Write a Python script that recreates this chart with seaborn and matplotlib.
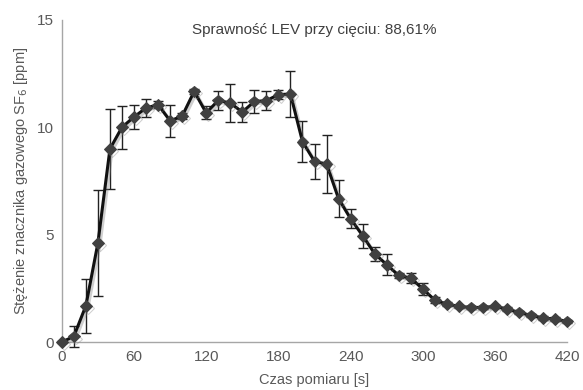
import numpy as np
import pandas as pd
import matplotlib
matplotlib.use('Agg')
import matplotlib.pyplot as plt
import matplotlib.patheffects as pe
import seaborn as sns

# dane
czas = list(range(0, 421, 10))
stezenie = [0.0, 0.26, 1.69, 4.61, 8.99, 10.0, 10.48, 10.9, 11.05, 10.3,
            10.52, 11.67, 10.67, 11.25, 11.13, 10.71, 11.2, 11.24, 11.52, 11.55,
            9.33, 8.41, 8.29, 6.67, 5.74, 4.95, 4.11, 3.6, 3.1, 2.98,
            2.47, 1.95, 1.77, 1.66, 1.61, 1.61, 1.66, 1.54, 1.38, 1.24,
            1.12, 1.07, 0.96]
blad = [0.05, 0.5, 1.25, 2.45, 1.85, 1.0, 0.57, 0.4, 0.15, 0.75,
        0.15, 0.1, 0.3, 0.45, 0.88, 0.45, 0.52, 0.43, 0.2, 1.05,
        0.95, 0.8, 1.35, 0.87, 0.45, 0.56, 0.33, 0.5, 0.1, 0.25,
        0.3, 0.15, 0.1, 0.08, 0.08, 0.08, 0.08, 0.08, 0.08, 0.08,
        0.08, 0.08, 0.08]
x_ticks = [0, 60, 120, 180, 240, 300, 360, 420]
y_ticks = [0, 5, 10, 15]

df = pd.DataFrame({'czas': czas, 'stezenie': stezenie, 'blad': blad})

sns.set_style('white')
plt.rcParams['font.family'] = ['Liberation Sans', 'DejaVu Sans']
szary = '#595959'

fig = plt.figure(figsize=(5.83, 3.9), dpi=100)
ax = fig.add_axes([0.106, 0.123, 0.867, 0.826])

# słupki błędów
ax.errorbar(df['czas'], df['stezenie'], yerr=df['blad'], fmt='none',
            ecolor='#222222', elinewidth=1.0, capsize=3.5, capthick=1.0,
            zorder=2, clip_on=False)

# linia z markerami
sns.lineplot(data=df, x='czas', y='stezenie', ax=ax, color='#111111',
             linewidth=2.2, marker='D', markersize=6,
             markerfacecolor='#404040', markeredgecolor='#404040',
             zorder=3, clip_on=False,
             path_effects=[pe.SimpleLineShadow(offset=(1.5, -1.5), shadow_color='#777777', alpha=0.35),
                           pe.Normal()])

ax.set_xlim(0, 420)
ax.set_ylim(0, 15)
ax.set_xticks(x_ticks)
ax.set_yticks(y_ticks)
ax.tick_params(axis='both', length=0, labelsize=11, colors=szary, pad=6)

for s in ['top', 'right']:
    ax.spines[s].set_visible(False)
for s in ['left', 'bottom']:
    ax.spines[s].set_color('#a6a6a6')
    ax.spines[s].set_linewidth(1.0)

ax.set_xlabel('Czas pomiaru [s]', fontsize=10.5, color=szary, labelpad=6)
ax.set_ylabel('Stężenie znacznika gazowego SF$_6$ [ppm]', fontsize=10.5,
              color=szary, labelpad=5)

ax.text(0.5, 0.969, 'Sprawność LEV przy cięciu: 88,61%', transform=ax.transAxes,
        ha='center', va='center', fontsize=11, color='#404040')

plt.savefig('out.png', dpi=100)
plt.close()
